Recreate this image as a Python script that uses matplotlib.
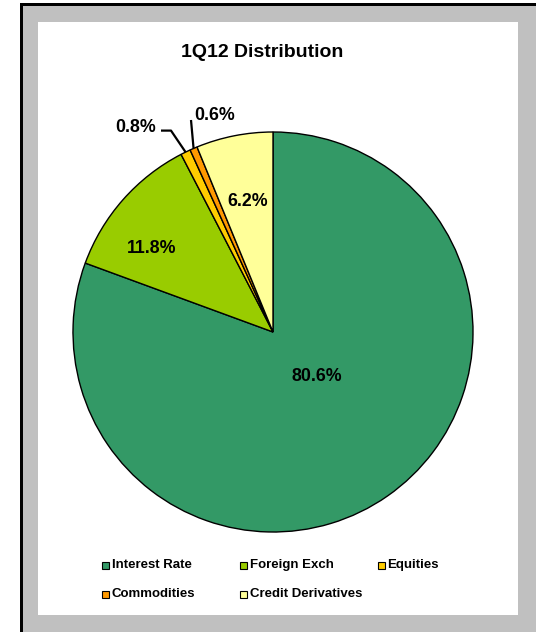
import numpy as np
import matplotlib
matplotlib.use('Agg')
from matplotlib import pyplot as plt
from matplotlib.patches import Rectangle

# data
categories = ["Interest Rate", "Foreign Exch", "Equities", "Commodities", "Credit Derivatives"]
shares = [80.6, 11.8, 0.8, 0.6, 6.2]
colors = ["#339966", "#99cc00", "#ffcc00", "#ff9900", "#ffff99"]
title = "1Q12 Distribution"

plt.rcParams['font.family'] = ['Liberation Sans', 'DejaVu Sans']
plt.rcParams['font.weight'] = 'bold'

W, H = 536, 632
fig = plt.figure(figsize=(W / 100, H / 100), dpi=100)
fig.patch.set_facecolor("white")


def px_rect(x0, y0, x1, y1, **kw):
    # rectangle given in pixel coords (top-left origin)
    r = Rectangle((x0 / W, 1 - y1 / H), (x1 - x0) / W, (y1 - y0) / H,
                  transform=fig.transFigure, **kw)
    fig.patches.append(r)
    return r


# frame: black shadow edge, grey border, white chart area
px_rect(20, 3, W, H, facecolor="black", edgecolor="none", zorder=-12)
px_rect(22.5, 5.5, W, H, facecolor="#c0c0c0", edgecolor="none", zorder=-11)
px_rect(38, 22, 518, 615, facecolor="white", edgecolor="none", zorder=-10)

fig.text(262 / W, 1 - 57 / H, title, ha="center", va="baseline",
         fontsize=14, fontweight="bold")

# pie: center (273, 332), radius 200 px
ax = fig.add_axes([73 / W, 1 - 532 / H, 400 / W, 400 / H])
ax.set_facecolor("none")
wedges, _ = ax.pie(shares, colors=colors, startangle=90, counterclock=False,
                   radius=1.0, wedgeprops=dict(edgecolor="black", linewidth=1.0))
ax.set_xlim(-1.0, 1.0)
ax.set_ylim(-1.0, 1.0)
ax.set_aspect("equal")
ax.axis("off")

labels = ["%.1f%%" % v for v in shares]
lbl_kw = dict(ha="center", va="baseline", fontsize=12.8, fontweight="bold")
# in-slice labels (baseline positions, radius = 1)
inside = {0: (0.22, -0.245), 1: (-0.605, 0.395), 4: (-0.1275, 0.63)}
for i, (x, y) in inside.items():
    ax.text(x, y, labels[i], **lbl_kw)

# small slices: labels outside with leader lines
mids = [np.deg2rad((w.theta1 + w.theta2) / 2) for w in wedges]
# Equities
e = mids[2]
ex, ey = np.cos(e), np.sin(e)
ax.plot([-0.56, -0.51, ex], [1.007, 1.007, ey], color="black", lw=1.6,
        clip_on=False, solid_capstyle="butt")
ax.text(-0.6875, 1.0, labels[2], **lbl_kw)
# Commodities
c = mids[3]
cx, cy = np.cos(c), np.sin(c)
ax.plot([-0.41, cx], [1.06, cy], color="black", lw=1.6, clip_on=False,
        solid_capstyle="butt")
ax.text(-0.29, 1.06, labels[3], **lbl_kw)

# legend, laid out row by row like the original
col_x = [102, 240, 378]
row_y = [565, 594]
for i, (name, col) in enumerate(zip(categories, colors)):
    r, k = divmod(i, 3)
    x, y = col_x[k], row_y[r]
    px_rect(x, y - 3.5, x + 7, y + 3.5, facecolor=col, edgecolor="black",
            linewidth=0.8, zorder=3)
    fig.text((x + 9.5) / W, 1 - y / H, name, ha="left", va="center",
             fontsize=9.5, fontweight="bold")

fig.savefig("out.png", dpi=100)
